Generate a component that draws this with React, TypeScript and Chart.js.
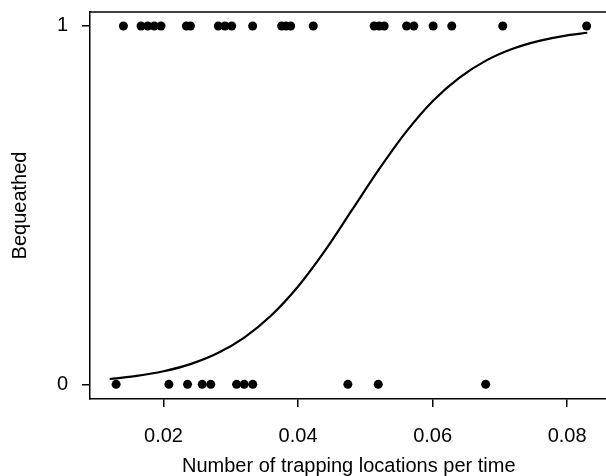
import React, { useEffect, useRef } from "react";
import { Chart, registerables } from "chart.js";

Chart.register(...registerables);

// Observations with outcome = 1 (bequeathed)
const bequeathedX = [
  0.01404, 0.01666, 0.01766, 0.01864, 0.01963, 0.02340, 0.02400, 0.02815,
  0.02914, 0.03013, 0.03325, 0.03756, 0.0382, 0.0389, 0.04226, 0.05131,
  0.05206, 0.0528, 0.05613, 0.05721, 0.06008, 0.06285, 0.07043, 0.0829,
];
// Observations with outcome = 0
const notBequeathedX = [
  0.01295, 0.0208, 0.02357, 0.02575, 0.02702, 0.03086, 0.0320, 0.03327,
  0.0474, 0.05192, 0.06789,
];
// Fitted curve
const curveX = [
  0.012, 0.016, 0.02, 0.024, 0.028, 0.032, 0.036, 0.04, 0.044, 0.048, 0.052,
  0.056, 0.06, 0.064, 0.068, 0.072, 0.076, 0.08, 0.083,
];
const curveY = [
  0.0148, 0.0233, 0.0364, 0.0564, 0.0865, 0.1304, 0.192, 0.273, 0.373, 0.486,
  0.599, 0.703, 0.79, 0.856, 0.904, 0.937, 0.959, 0.974, 0.981,
];
const xTicks = [0.02, 0.04, 0.06, 0.08];
const yTicks = [0, 1];
const xTitle = "Number of trapping locations per time";
const yTitle = "Bequeathed";

const FONT = "'Liberation Sans', Arial, Helvetica, sans-serif";

const topBorder = {
  id: "topBorder",
  afterDraw(chart: any) {
    const { ctx, chartArea } = chart;
    ctx.save();
    ctx.strokeStyle = "#000";
    ctx.lineWidth = 1.5;
    ctx.beginPath();
    ctx.moveTo(chartArea.left, chartArea.top);
    ctx.lineTo(chartArea.right, chartArea.top);
    ctx.stroke();
    ctx.restore();
  },
};

export default function App() {
  const ref = useRef<HTMLCanvasElement>(null);
  useEffect(() => {
    document.body.style.margin = "0";
    document.body.style.overflow = "hidden";
    document.documentElement.style.overflow = "hidden";
    const canvas = ref.current!;
    const points1 = bequeathedX.map((x) => ({ x, y: 1 }));
    const points0 = notBequeathedX.map((x) => ({ x, y: 0 }));
    const curve = curveX.map((x, i) => ({ x, y: curveY[i] }));
    const chart = new Chart(canvas, {
      type: "scatter",
      data: {
        datasets: [
          {
            type: "line",
            data: curve,
            borderColor: "#000",
            borderWidth: 2.2,
            pointRadius: 0,
            cubicInterpolationMode: "monotone",
            fill: false,
          } as any,
          {
            data: [...points1, ...points0],
            backgroundColor: "#000",
            borderWidth: 0,
            pointRadius: 4.5,
          },
        ],
      },
      plugins: [topBorder],
      options: {
        animation: false,
        responsive: false,
        events: [],
        layout: { padding: { top: 12, right: 0, left: 0, bottom: 0 } },
        plugins: { legend: { display: false }, tooltip: { enabled: false } },
        scales: {
          x: {
            type: "linear",
            min: 0.00907,
            max: 0.0860,
            afterBuildTicks: (s: any) => {
              s.ticks = xTicks.map((v) => ({ value: v }));
            },
            afterFit: (s: any) => {
              s.height = 77;
              s.paddingLeft = 0;
              s.paddingRight = 0;
            },
            grid: {
              drawOnChartArea: false,
              drawTicks: true,
              tickLength: 8,
              color: "#000",
              lineWidth: 1.5,
            },
            border: { display: true, color: "#000", width: 1.5 },
            ticks: {
              color: "#000",
              font: { family: FONT, size: 20 },
              padding: 17,
              maxRotation: 0,
              callback: (v: any) => Number(v).toFixed(2),
            },
            title: {
              display: true,
              text: xTitle,
              color: "#000",
              font: { family: FONT, size: 20, lineHeight: 1 },
              padding: { top: 0, bottom: 0 },
            },
          },
          y: {
            type: "linear",
            min: -0.041,
            max: 1.039,
            afterBuildTicks: (s: any) => {
              s.ticks = yTicks.map((v) => ({ value: v }));
            },
            afterFit: (s: any) => {
              s.width = 90;
              s.paddingTop = 0;
              s.paddingBottom = 0;
            },
            grid: {
              drawOnChartArea: false,
              drawTicks: true,
              tickLength: 8,
              color: "#000",
              lineWidth: 1.5,
            },
            border: { display: true, color: "#000", width: 1.5 },
            ticks: {
              color: "#000",
              font: { family: FONT, size: 20 },
              padding: 14,
              callback: (v: any) => String(v),
            },
            title: {
              display: true,
              text: yTitle,
              color: "#000",
              font: { family: FONT, size: 20, lineHeight: 1 },
              padding: { top: 10, bottom: 0 },
            },
          },
        },
      },
    });
    return () => chart.destroy();
  }, []);
  return <canvas ref={ref} width={612} height={476} style={{ display: "block" }} />;
}
